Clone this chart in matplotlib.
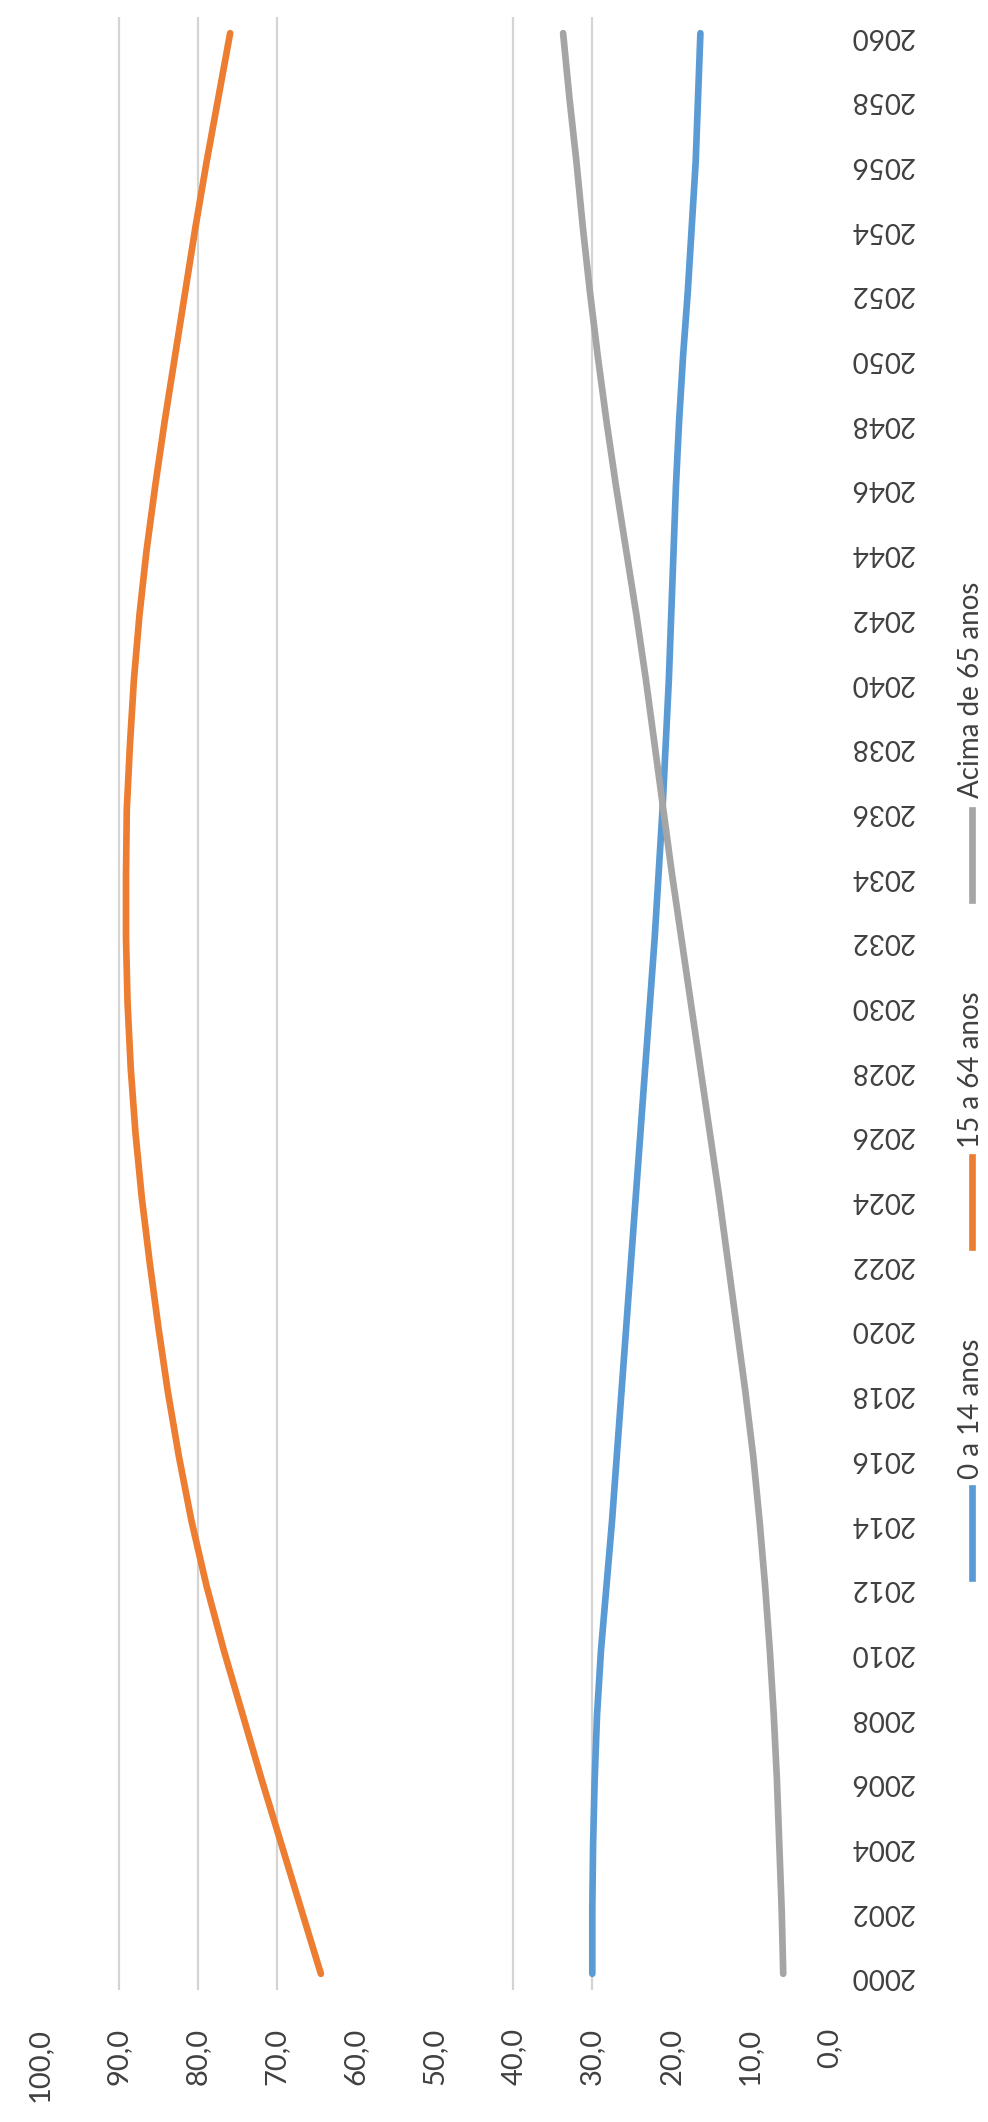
import matplotlib
matplotlib.use("Agg")
import matplotlib.pyplot as plt
from matplotlib.lines import Line2D

plt.rcParams['font.family'] = ['Lato', 'DejaVu Sans']

# data: share by age group, read every 2 years
anos = list(range(2000, 2061, 2))
jovens = [30.0, 30.0, 29.9, 29.7, 29.4, 28.9, 28.2, 27.5, 26.9, 26.3, 25.7,
          25.1, 24.5, 23.9, 23.3, 22.7, 22.1, 21.6, 21.1, 20.7, 20.3,
          20.0, 19.7, 19.4, 19.0, 18.5, 17.9, 17.4, 16.9, 16.6, 16.3]
adultos = [64.4, 66.9, 69.4, 71.9, 74.3, 76.7, 78.9, 80.8, 82.4, 83.8, 85.0,
           86.1, 87.1, 87.9, 88.5, 88.9, 89.1, 89.1, 89.0, 88.6, 88.1,
           87.4, 86.5, 85.4, 84.2, 82.9, 81.6, 80.3, 78.9, 77.4, 75.9]
idosos = [5.8, 6.0, 6.3, 6.6, 7.0, 7.5, 8.1, 8.8, 9.6, 10.6, 11.7,
          12.8, 13.9, 15.1, 16.3, 17.5, 18.7, 19.9, 21.0, 22.1, 23.2,
          24.4, 25.7, 27.0, 28.2, 29.3, 30.3, 31.2, 32.0, 32.9, 33.7]

series_names = ['0 a 14 anos', '15 a 64 anos', 'Acima de 65 anos']
value_ticks = list(range(0, 101, 10))
grid_visible = [30, 40, 70, 80, 90]   # the scan only shows these gridlines

colors = ['#5B9BD5', '#ED7D31', '#A5A5A5']
txt = '#404040'

W, H = 988, 2122
fig = plt.figure(figsize=(W / 100, H / 100), dpi=100)
ax = fig.add_axes([40 / W, 1 - 1990 / H, 789 / W, (1990 - 17) / H])

# chart is rotated: values run right-to-left, years bottom-to-top
for v in grid_visible:
    ax.axvline(v, color='#d4d4d4', lw=1.6, zorder=1)

for vals, c in zip([jovens, adultos, idosos], colors):
    ax.plot(vals, anos, color=c, lw=4.8, solid_capstyle='round',
            solid_joinstyle='round', zorder=3)

ax.set_xlim(100, 0)
ax.set_ylim(1999.5, 2060.5)

ax.set_xticks(value_ticks)
ax.set_xticklabels([f'{v:.1f}'.replace('.', ',') for v in value_ticks],
                   rotation=90, fontsize=21, color=txt)
ax.set_yticks(anos)
ax.set_yticklabels([str(a) for a in anos], rotation=180, fontsize=20, color=txt)
ax.yaxis.tick_right()
ax.tick_params(axis='x', length=0, pad=27)
ax.tick_params(axis='y', length=0, pad=15)
for s in ax.spines.values():
    s.set_visible(False)

# legend drawn by hand so that its text can be rotated
leg = [(1488, 1578, 1479), (1157, 1247, 1148), (810, 900, 798)]
xl = 972 / W
for (y0, y1, yt), name, c in zip(leg, series_names, colors):
    fig.add_artist(Line2D([xl, xl], [1 - y0 / H, 1 - y1 / H], color=c, lw=4.8))
    fig.text(xl - 1 / W, 1 - yt / H, name, rotation=90, ha='center', va='bottom',
             fontsize=20, color=txt)

fig.savefig('out.png', dpi=100, facecolor='white')
